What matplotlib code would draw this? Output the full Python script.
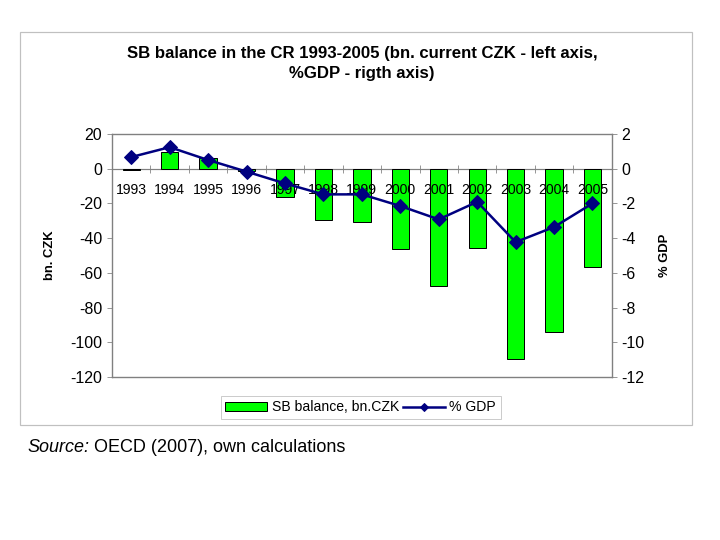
import matplotlib.pyplot as plt
from matplotlib.patches import Rectangle

# data
years = ['1993', '1994', '1995', '1996', '1997', '1998', '1999',
         '2000', '2001', '2002', '2003', '2004', '2005']
sb_balance = [-1.0, 9.7, 6.0, -1.5, -16.5, -29.5, -30.5,
              -46.5, -67.5, -45.5, -109.5, -94.0, -56.5]
pct_gdp = [0.67, 1.24, 0.5, -0.17, -0.85, -1.48, -1.48,
           -2.15, -2.92, -1.91, -4.23, -3.36, -2.0]

plt.rcParams['font.family'] = ['Liberation Sans', 'DejaVu Sans']
plt.rcParams['axes.unicode_minus'] = False

fig = plt.figure(figsize=(10, 7.5), dpi=72)
ax = fig.add_axes([0.1556, 0.3019, 0.694, 0.45])
ax2 = ax.twinx()

x = list(range(len(years)))
bars = ax.bar(x, sb_balance, width=0.45, color='#00ff00', edgecolor='black',
              linewidth=1.0, zorder=2, label='SB balance, bn.CZK')
line, = ax2.plot(x, pct_gdp, color='#000080', linewidth=2.5, marker='D',
                 markersize=10, zorder=3, label='% GDP')

ax.set_xlim(-0.5, len(years) - 0.5)
ax.set_ylim(-120, 20)
ax.set_yticks(range(-120, 21, 20))
ax2.set_ylim(-12, 2)
ax2.set_yticks(range(-12, 3, 2))

# frame of the plot area
for a in (ax, ax2):
    for s in a.spines.values():
        s.set_color('#808080')
        s.set_linewidth(1.2)
ax.tick_params(axis='y', direction='out', length=5, color='#808080',
               labelsize=16, pad=5)
ax2.tick_params(axis='y', direction='out', length=5, color='#808080',
                labelsize=16, pad=5)
ax.set_xticks([])

# category axis on the zero line
ax.axhline(0, color='#808080', linewidth=1.2, zorder=1)
sec = ax.secondary_xaxis(120 / 140)
sec.spines['bottom'].set_visible(False)
sec.spines['top'].set_visible(False)
sec.set_xticks([i + 0.5 for i in x[:-1]])
sec.set_xticklabels([])
sec.tick_params(axis='x', which='both', direction='inout', length=8,
                color='#808080')
for i, yr in zip(x, years):
    ax.annotate(yr, xy=(i, 0), xytext=(0, -21), textcoords='offset points',
                ha='center', va='center', fontsize=14, zorder=4)

ax.set_ylabel('bn. CZK', fontsize=13, fontweight='bold', labelpad=14)
ax2.set_ylabel('% GDP', fontsize=13, fontweight='bold', labelpad=14)

fig.text(0.503, 0.883, 'SB balance in the CR 1993-2005 (bn. current CZK - left axis,\n'
         '%GDP - rigth axis)', ha='center', va='center', fontsize=16.7,
         fontweight='bold', linespacing=1.4)

fig.legend(handles=[bars, line], loc='center', bbox_to_anchor=(0.501, 0.2454),
           ncol=2, fontsize=14, frameon=True, fancybox=False, edgecolor='#c0c0c0',
           handlelength=3, columnspacing=0.3, handletextpad=0.3,
           borderpad=0.35, markerscale=0.6)

fig.patches.append(Rectangle((20 / 720, 1 - 425 / 540), 672 / 720, 393 / 540,
                             transform=fig.transFigure, fill=False,
                             edgecolor='#c0c0c0', linewidth=1.2))

src = fig.text(27 / 720, 1 - 448 / 540, 'Source:', fontsize=18, style='italic',
               va='center')
fig.canvas.draw()
ax.annotate(' OECD (2007), own calculations', xy=(1, 0.5), xycoords=src,
            va='center', fontsize=18, annotation_clip=False)

fig.savefig('out.png', dpi=72, facecolor='white')
